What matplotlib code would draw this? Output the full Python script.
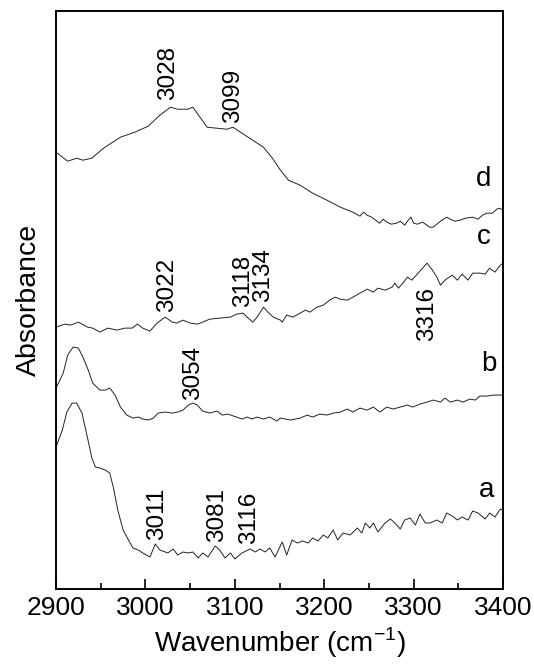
import matplotlib
matplotlib.use("Agg")
import matplotlib.pyplot as plt
from matplotlib.ticker import MultipleLocator

plt.rcParams["font.family"] = ["Liberation Sans", "DejaVu Sans"]
plt.rcParams["mathtext.fontset"] = "custom"
plt.rcParams["mathtext.rm"] = "Liberation Sans"

# ---------------- spectra (wavenumber in cm-1, absorbance in arb. units, offset) ----------------
wn_a = [2900, 2907, 2912, 2918, 2923, 2929, 2935, 2940, 2944, 2949, 2955, 2960, 2964, 2969, 2975,
        2981, 2986, 2992, 2997, 3005, 3011, 3016, 3022, 3025, 3031, 3036, 3042, 3048, 3053, 3059,
        3064, 3070, 3078, 3083, 3089, 3095, 3100, 3108, 3117, 3123, 3128, 3134, 3139, 3145, 3153,
        3158, 3164, 3170, 3176, 3182, 3187, 3193, 3199, 3204, 3210, 3215, 3221, 3229, 3237, 3242,
        3246, 3251, 3255, 3260, 3268, 3274, 3279, 3285, 3290, 3296, 3302, 3307, 3313, 3318, 3326,
        3332, 3337, 3343, 3349, 3354, 3361, 3366, 3372, 3380, 3385, 3391, 3397, 3400]
abs_a = [1.42, 1.59, 1.77, 1.86, 1.86, 1.76, 1.52, 1.31, 1.22, 1.21, 1.19, 1.16, 1.02, 0.79, 0.59,
         0.49, 0.41, 0.39, 0.36, 0.32, 0.45, 0.39, 0.37, 0.36, 0.40, 0.34, 0.37, 0.36, 0.37, 0.31,
         0.36, 0.32, 0.43, 0.39, 0.31, 0.36, 0.30, 0.36, 0.40, 0.37, 0.40, 0.37, 0.41, 0.32, 0.47,
         0.34, 0.49, 0.46, 0.48, 0.46, 0.51, 0.48, 0.54, 0.51, 0.59, 0.49, 0.56, 0.54, 0.61, 0.56,
         0.66, 0.61, 0.66, 0.57, 0.66, 0.70, 0.66, 0.60, 0.69, 0.71, 0.64, 0.75, 0.66, 0.66, 0.69,
         0.66, 0.76, 0.73, 0.69, 0.72, 0.69, 0.78, 0.76, 0.70, 0.76, 0.72, 0.80, 0.79]

wn_b = [2900, 2908, 2913, 2919, 2925, 2930, 2936, 2941, 2949, 2955, 2960, 2966, 2972, 2979, 2986,
        2992, 2997, 3003, 3009, 3014, 3022, 3030, 3036, 3042, 3048, 3053, 3058, 3064, 3072, 3080,
        3086, 3092, 3102, 3108, 3114, 3119, 3125, 3132, 3139, 3147, 3151, 3162, 3173, 3181, 3187,
        3195, 3203, 3210, 3218, 3226, 3232, 3240, 3248, 3255, 3262, 3270, 3277, 3285, 3293, 3299,
        3307, 3315, 3322, 3330, 3335, 3341, 3349, 3355, 3363, 3369, 3374, 3382, 3389, 3400]
abs_b = [2.01, 2.16, 2.34, 2.42, 2.41, 2.32, 2.19, 2.06, 1.99, 1.99, 2.01, 1.94, 1.82, 1.74, 1.71,
         1.72, 1.70, 1.69, 1.71, 1.76, 1.77, 1.76, 1.77, 1.79, 1.84, 1.86, 1.84, 1.78, 1.76, 1.78,
         1.74, 1.75, 1.72, 1.70, 1.72, 1.70, 1.72, 1.70, 1.72, 1.68, 1.71, 1.69, 1.71, 1.74, 1.72,
         1.75, 1.74, 1.76, 1.77, 1.80, 1.77, 1.81, 1.79, 1.82, 1.77, 1.82, 1.80, 1.82, 1.84, 1.82,
         1.85, 1.87, 1.89, 1.87, 1.91, 1.87, 1.89, 1.87, 1.90, 1.89, 1.93, 1.93, 1.94, 1.94]

wn_c = [2900, 2910, 2916, 2925, 2935, 2941, 2949, 2958, 2968, 2977, 2985, 2991, 2997, 3005, 3013,
        3022, 3030, 3035, 3042, 3050, 3058, 3064, 3072, 3083, 3095, 3102, 3109, 3115, 3120, 3125,
        3132, 3137, 3143, 3151, 3153, 3158, 3165, 3173, 3179, 3184, 3192, 3199, 3206, 3212, 3218,
        3226, 3232, 3240, 3248, 3255, 3260, 3268, 3276, 3279, 3283, 3288, 3293, 3298, 3305, 3315,
        3321, 3326, 3330, 3335, 3343, 3349, 3354, 3361, 3366, 3374, 3380, 3385, 3391, 3397, 3400]
abs_c = [2.62, 2.65, 2.64, 2.67, 2.62, 2.61, 2.57, 2.61, 2.59, 2.61, 2.61, 2.65, 2.61, 2.58, 2.66,
         2.72, 2.67, 2.66, 2.69, 2.66, 2.65, 2.67, 2.70, 2.71, 2.72, 2.75, 2.76, 2.71, 2.67, 2.72,
         2.82, 2.77, 2.72, 2.69, 2.67, 2.74, 2.72, 2.76, 2.79, 2.77, 2.82, 2.84, 2.89, 2.92, 2.90,
         2.89, 2.92, 2.96, 3.00, 2.97, 3.01, 2.99, 3.02, 3.06, 3.01, 3.06, 3.12, 3.09, 3.16, 3.26,
         3.19, 3.12, 3.04, 3.09, 3.14, 3.09, 3.15, 3.09, 3.16, 3.16, 3.15, 3.21, 3.17, 3.24, 3.26]

wn_d = [2900, 2913, 2923, 2930, 2940, 2953, 2972, 2988, 3003, 3016, 3028, 3036, 3047, 3053, 3061,
        3069, 3080, 3091, 3098, 3108, 3120, 3132, 3142, 3151, 3160, 3173, 3187, 3203, 3218, 3232,
        3240, 3244, 3248, 3253, 3259, 3262, 3266, 3270, 3275, 3281, 3285, 3290, 3294, 3297, 3300,
        3304, 3310, 3318, 3322, 3330, 3337, 3341, 3346, 3352, 3358, 3366, 3372, 3377, 3382, 3388,
        3393, 3396, 3400]
abs_d = [4.37, 4.28, 4.31, 4.29, 4.31, 4.41, 4.52, 4.57, 4.63, 4.74, 4.82, 4.80, 4.80, 4.82, 4.72,
         4.62, 4.61, 4.60, 4.62, 4.56, 4.49, 4.42, 4.31, 4.19, 4.09, 4.04, 3.96, 3.89, 3.82, 3.77,
         3.73, 3.77, 3.74, 3.72, 3.68, 3.66, 3.70, 3.67, 3.65, 3.66, 3.68, 3.64, 3.69, 3.72, 3.66,
         3.65, 3.67, 3.62, 3.62, 3.68, 3.72, 3.70, 3.68, 3.69, 3.71, 3.72, 3.70, 3.74, 3.76, 3.76,
         3.80, 3.81, 3.79]

# ---------------- labels ----------------
trace_names = ["a", "b", "c", "d"]
name_pos = [(3382, 0.86), (3384, 2.12), (3378, 3.39), (3378, 3.97)]

peak_labels = ["3028", "3099", "3022", "3118", "3134", "3054", "3011", "3081", "3116"]
peak_pos = [(3025, 4.89), (3098, 4.66), (3024, 2.77), (3109, 2.82), (3131, 2.87),
            (3053, 1.89), (3013, 0.49), (3080, 0.47), (3116, 0.45)]
# this one sits below its trace
below_label = "3316"
below_pos = (3315, 3.02)


fig = plt.figure(figsize=(5.34, 6.64), dpi=100)
ax = fig.add_axes([0.105, 0.113, 0.837, 0.870])

for wn, ab in [(wn_a, abs_a), (wn_b, abs_b), (wn_c, abs_c), (wn_d, abs_d)]:
    ax.plot(wn, ab, color="#222222", lw=0.7)

for name, (x, y) in zip(trace_names, name_pos):
    ax.text(x, y, name, fontsize=20, ha="center", va="bottom")

for lab, (x, y) in zip(peak_labels, peak_pos):
    ax.text(x, y, lab, fontsize=17.5, rotation=90, ha="center", va="bottom")
ax.text(below_pos[0], below_pos[1], below_label, fontsize=17.5, rotation=90, ha="center", va="top")

ax.set_xlim(2900, 3400)
ax.set_ylim(0, 5.78)
ax.xaxis.set_major_locator(MultipleLocator(100))
ax.xaxis.set_minor_locator(MultipleLocator(50))
ax.tick_params(axis="x", which="major", direction="in", length=7, width=1.2, labelsize=19, pad=5)
ax.tick_params(axis="x", which="minor", direction="in", length=4, width=1.2)
ax.set_yticks([])
for s in ax.spines.values():
    s.set_linewidth(1.4)

ax.set_xlabel("Wavenumber (cm$^{\\mathregular{-1}}$)", fontsize=20, labelpad=4)
ax.set_ylabel("Absorbance", fontsize=20.5, labelpad=10)

fig.savefig("out.png", dpi=100)
